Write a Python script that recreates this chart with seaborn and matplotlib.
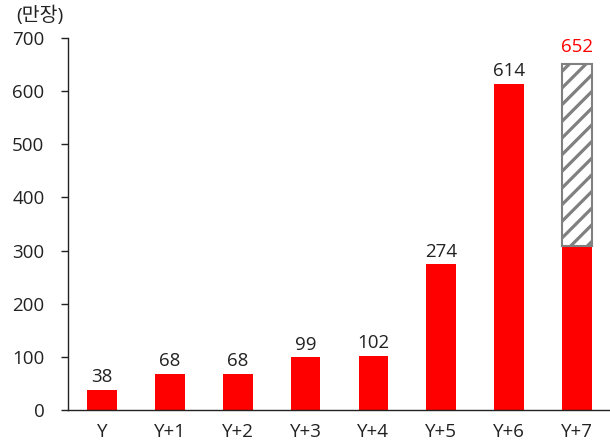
import numpy as np
import pandas as pd
import matplotlib
matplotlib.use("Agg")
import matplotlib.pyplot as plt
import seaborn as sns

categories = ["Y", "Y+1", "Y+2", "Y+3", "Y+4", "Y+5", "Y+6", "Y+7"]
totals = [38, 68, 68, 99, 102, 274, 614, 652]
red_part = [38, 68, 68, 99, 102, 274, 614, 308]

sns.set_style("white")
plt.rcParams["font.family"] = ["Open Sans", "Noto Sans CJK KR", "DejaVu Sans"]
plt.rcParams["hatch.linewidth"] = 2.3
plt.rcParams["hatch.color"] = "#808080"

df = pd.DataFrame({"cat": categories, "red": red_part, "total": totals})

fig = plt.figure(figsize=(6.1, 4.48), dpi=100)
ax = fig.add_axes([68 / 610, 38 / 448, 543 / 610, 372 / 448])

sns.barplot(data=df, x="cat", y="red", color="#ff0000", saturation=1,
            width=0.44, ax=ax, linewidth=0)

# hatched upper part of last bar
last = len(categories) - 1
ax.bar(last, totals[last] - red_part[last], bottom=red_part[last], width=0.44,
       color="white", edgecolor="#808080", hatch="//", linewidth=1.5)

for i, v in enumerate(totals):
    col = "#ff0000" if i == last else "#222222"
    off = 14 if i == last else 7
    ax.text(i, v + off, str(v), ha="center", va="bottom", fontsize=13.5, color=col)

ax.set_xlim(-0.5, len(categories) - 0.5)
ax.set_ylim(0, 700)
ax.set_yticks(range(0, 701, 100))
ax.set_xlabel("")
ax.set_ylabel("")

ax.set_xticks(np.arange(-0.5, len(categories), 1), minor=True)
ax.tick_params(axis="x", which="major", length=0, pad=9, labelsize=13.5, colors="#222222")
ax.tick_params(axis="x", which="minor", length=5, width=1, color="#222222", direction="out")
ax.tick_params(axis="y", length=5, width=1, pad=12, labelsize=13.5, colors="#222222",
               direction="out", left=True)

for s in ["top", "right"]:
    ax.spines[s].set_visible(False)
for s in ["left", "bottom"]:
    ax.spines[s].set_color("#222222")
    ax.spines[s].set_linewidth(1)

fig.text(40 / 610, 1 - 15 / 448, "(만장)", ha="center", va="center", fontsize=14, color="#222222")

fig.savefig("out.png", dpi=100)
